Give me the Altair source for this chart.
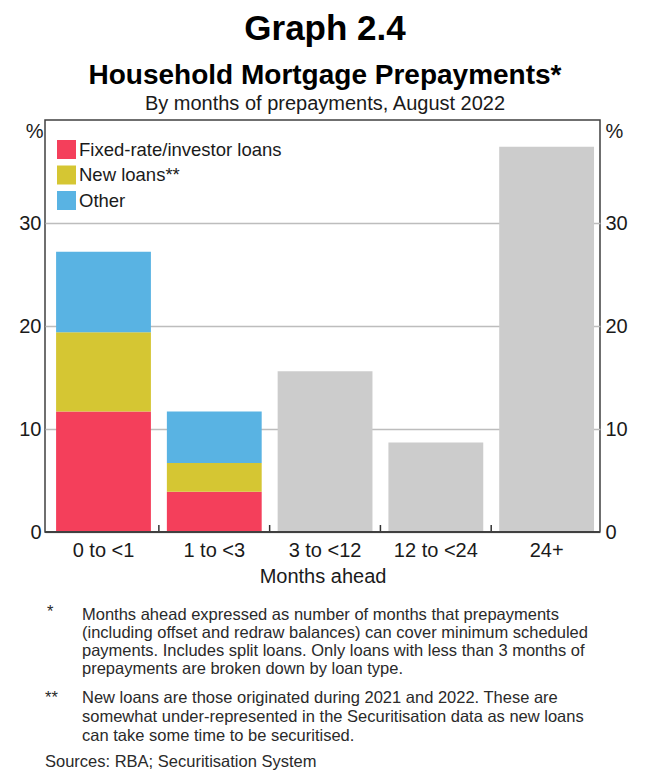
import altair as alt
import pandas as pd

# ---------------- data ----------------
categories = ["0 to <1", "1 to <3", "3 to <12", "12 to <24", "24+"]
series_names = ["Fixed-rate/investor loans", "New loans**", "Other"]
fixed_rate = [11.7, 3.9]      # first two categories
new_loans = [7.7, 2.8]
other = [7.8, 5.0]
all_loans = [15.6, 8.7, 37.4]  # remaining three categories
y_ticks = [0, 10, 20, 30]

series_colors = ["#f43f5b", "#d5c633", "#59b3e3"]
total_color = "#cccccc"

title_top = "Graph 2.4"
title_main = "Household Mortgage Prepayments*"
subtitle = "By months of prepayments, August 2022"
x_title = "Months ahead"
note1_mark = "*"
note1_lines = [
    "Months ahead expressed as number of months that prepayments",
    "(including offset and redraw balances) can cover minimum scheduled",
    "payments. Includes split loans. Only loans with less than 3 months of",
    "prepayments are broken down by loan type.",
]
note2_mark = "**"
note2_lines = [
    "New loans are those originated during 2021 and 2022. These are",
    "somewhat under-represented in the Securitisation data as new loans",
    "can take some time to be securitised.",
]
source_text = "Sources: RBA; Securitisation System"

# ---------------- tables ----------------
rows = []
for i, cat in enumerate(categories[:2]):
    for j, vals in enumerate([fixed_rate, new_loans, other]):
        rows.append({"cat": cat, "series": series_names[j], "value": vals[i], "ord": j})
stack_df = pd.DataFrame(rows)
total_df = pd.DataFrame({"cat": categories[2:], "value": all_loans})
tick_df = pd.DataFrame({"cat": categories[1:]})

W, H = 555, 412
FONT = "Liberation Sans"
TXT = "#1a1a1a"

x_scale = alt.Scale(domain=categories, paddingInner=0.144, paddingOuter=0.077, align=0.65)
y_scale = alt.Scale(domain=[0, 40], nice=False, zero=True)

common_axis = dict(labelFont=FONT, titleFont=FONT, labelColor=TXT, titleColor=TXT,
                   labelFontSize=20, titleFontSize=20, titleFontWeight="normal")

x_axis = alt.Axis(title=x_title, labelAngle=0, ticks=False, tickSize=0, domain=False,
                  labelPadding=8, titlePadding=6, **common_axis)


def xenc(**kw):
    return alt.X("cat:N", scale=x_scale, sort=categories, axis=x_axis, **kw)


bars = alt.Chart(stack_df).mark_bar().encode(
    x=xenc(),
    y=alt.Y("value:Q", stack="zero", scale=y_scale,
            axis=alt.Axis(orient="left", values=y_ticks, grid=True, gridColor="#bdbdbd",
                          gridWidth=1.5, ticks=False, tickSize=0, domain=False, labelPadding=4,
                          title="%", titleAngle=0, titleX=-2, titleY=11, titleAlign="right",
                          titleBaseline="middle", **common_axis)),
    color=alt.Color("series:N", scale=alt.Scale(domain=series_names, range=series_colors),
                    legend=alt.Legend(title=None, orient="none", legendX=12, legendY=20,
                                      symbolType="square", symbolSize=361, symbolStrokeWidth=0,
                                      labelFont=FONT, labelFontSize=18.5, labelColor=TXT,
                                      labelLimit=500, labelOffset=3, rowPadding=6.5,
                                      padding=0)),
    order=alt.Order("ord:Q", sort="ascending"),
)

gray = alt.Chart(total_df).mark_bar(color=total_color).encode(
    x=xenc(),
    y=alt.Y("value:Q", scale=y_scale,
            axis=alt.Axis(orient="right", values=y_ticks, grid=False, ticks=False, tickSize=0,
                          domain=False, labelPadding=5, title="%", titleAngle=0, titleX=5,
                          titleY=11, titleAlign="left", titleBaseline="middle", **common_axis)),
)

xticks = alt.Chart(tick_df).mark_rule(color="#333333", strokeWidth=1.5, xOffset=-8).encode(
    x=xenc(bandPosition=0),
    y=alt.value(H - 7),
    y2=alt.value(H),
)

baseline = alt.Chart(tick_df).mark_rule(color="#404040", strokeWidth=1.5).encode(
    x=alt.value(0), x2=alt.value(W), y=alt.value(H)
)


def txt(text, x, y, size, weight="normal", align="center", color=TXT, line_height=None):
    kw = dict(font=FONT, fontSize=size, fontWeight=weight, align=align, baseline="alphabetic",
              color=color)
    if line_height is not None:
        kw.update(lineBreak="\n", lineHeight=line_height)
    return alt.Chart(pd.DataFrame({"t": [text]})).mark_text(**kw).encode(
        text="t:N", x=alt.value(x), y=alt.value(y)
    )


NOTE = "#2a2a2a"
texts = [
    txt(title_top, 280, -80, 35, "bold", color="#000000"),
    txt(title_main, 280, -36, 28, "bold", color="#000000"),
    txt(subtitle, 280, -10, 20),
    txt(note1_mark, 2, 497, 16.5, align="left", color=NOTE),
    txt("\n".join(note1_lines), 37, 500, 16.5, align="left", color=NOTE, line_height=18),
    txt(note2_mark, 0, 583, 16.5, align="left", color=NOTE),
    txt("\n".join(note2_lines), 37, 583, 16.5, align="left", color=NOTE, line_height=19),
    txt(source_text, 0, 647, 16.5, align="left", color=NOTE),
]

chart = alt.layer(bars, gray, xticks, baseline, *texts).resolve_scale(
    y="independent"
).properties(
    width=W, height=H,
    autosize=alt.AutoSizeParams(type="none"),
    padding={"left": 37, "top": 112, "right": 28, "bottom": 239},
).configure_view(stroke="#404040", strokeWidth=1.5)

chart.save("out.html", embed_options={"renderer": "svg", "actions": False})
